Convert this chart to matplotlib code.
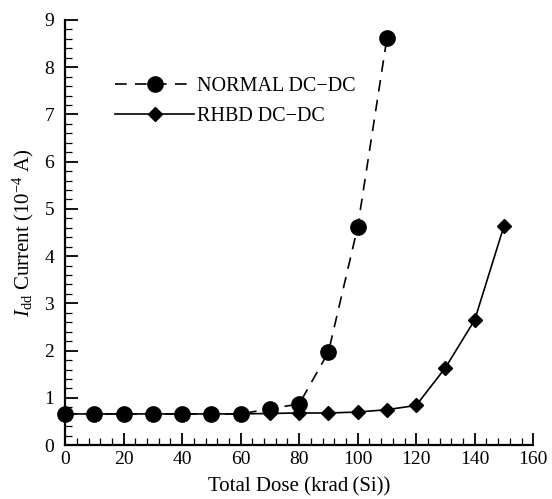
import matplotlib
matplotlib.use("Agg")
import matplotlib.pyplot as plt
from matplotlib.ticker import MultipleLocator

plt.rcParams['font.family'] = ['Liberation Serif', 'DejaVu Serif']
plt.rcParams['mathtext.fontset'] = 'custom'
plt.rcParams['mathtext.rm'] = 'Liberation Serif'
plt.rcParams['mathtext.it'] = 'Liberation Serif:italic'

normal_x = [0, 10, 20, 30, 40, 50, 60, 70, 80, 90, 100, 110]
normal_y = [0.66, 0.66, 0.66, 0.66, 0.66, 0.66, 0.66, 0.77, 0.87, 1.97, 4.62, 8.62]
rhbd_x = [0, 10, 20, 30, 40, 50, 60, 70, 80, 90, 100, 110, 120, 130, 140, 150]
rhbd_y = [0.66, 0.66, 0.66, 0.66, 0.66, 0.66, 0.66, 0.67, 0.68, 0.68, 0.70, 0.75, 0.84, 1.64, 2.65, 4.64]

fig = plt.figure(figsize=(5.52, 4.99), dpi=100)
ax = fig.add_axes([0.118, 0.108, 0.848, 0.852])

ax.plot(normal_x, normal_y, color='black', linestyle=(0, (7, 5)), linewidth=1.2,
        marker='o', markersize=11, label='NORMAL DC\u2212DC')
ax.plot(rhbd_x, rhbd_y, color='black', linestyle='-', linewidth=1.2,
        marker='D', markersize=7.5, label='RHBD DC\u2212DC')

ax.set_xlim(0, 160)
ax.set_ylim(0, 9)
ax.xaxis.set_major_locator(MultipleLocator(20))
ax.xaxis.set_minor_locator(MultipleLocator(4))
ax.yaxis.set_major_locator(MultipleLocator(1))
ax.yaxis.set_minor_locator(MultipleLocator(0.2))

for s in ['top', 'right']:
    ax.spines[s].set_visible(False)
for s in ['left', 'bottom']:
    ax.spines[s].set_linewidth(1.6)

ax.tick_params(which='major', direction='in', length=9, width=1.3, labelsize=14)
ax.tick_params(axis='x', which='major', pad=4)
ax.tick_params(axis='y', which='major', pad=8)
ax.tick_params(which='minor', direction='in', length=5, width=0.9)
ax.tick_params(top=False, right=False)
for ln in ax.lines:
    ln.set_clip_on(False)

ax.set_xlabel('Total Dose (krad\u2009(Si))', fontsize=15, labelpad=7)
ax.set_ylabel(r'$I_{\rm dd}$ Current (10$^{-4}$ A)', fontsize=15, labelpad=6)

ax.legend(loc='upper left', bbox_to_anchor=(0.09, 0.885), frameon=False,
          fontsize=14.5, handlelength=3.9, handletextpad=0.15, labelspacing=0.55,
          borderaxespad=0)

fig.savefig('out.png', dpi=100)
